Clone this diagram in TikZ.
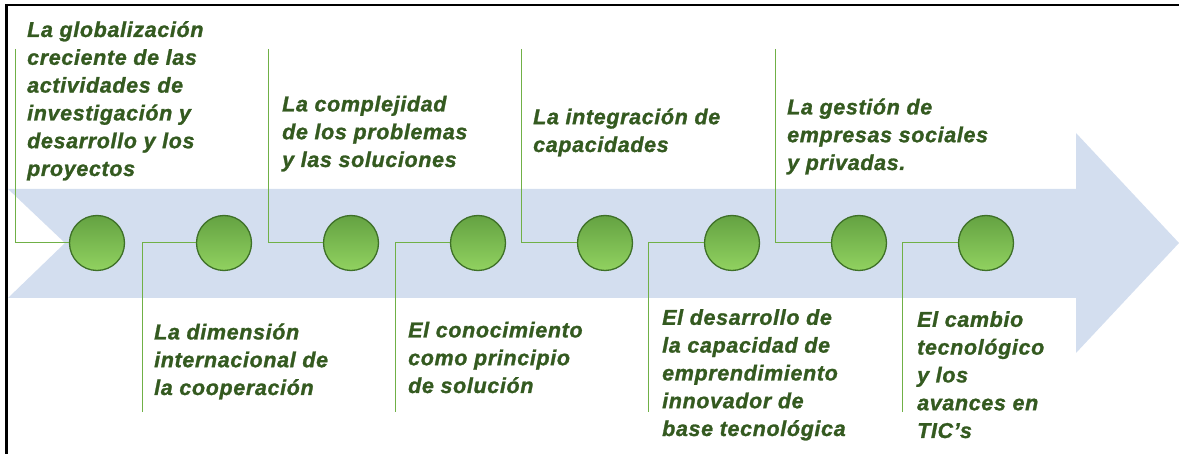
\documentclass[tikz,border=0pt]{standalone}
\usepackage{fontspec}
\setmainfont{Liberation Sans}
\newfontfamily\itemfont[LetterSpace=3,FakeBold=1.2]{Liberation Sans Bold Italic}
\usetikzlibrary{positioning,calc}

\definecolor{bandblue}{RGB}{211,222,239}
\definecolor{leadgreen}{RGB}{112,176,70}
\definecolor{textgreen}{RGB}{52,90,32}
\definecolor{balltop}{RGB}{100,162,66}
\definecolor{ballbottom}{RGB}{145,210,96}
\definecolor{balldark}{RGB}{62,112,40}

\begin{document}
\begin{tikzpicture}[x=1pt, y=-1pt,
            ball/.style={circle, draw=balldark, line width=1.3pt, minimum size=55pt,
                         inner sep=0pt, top color=balltop, bottom color=ballbottom},
            lead/.style={draw=leadgreen, line width=1pt},
            itemtext/.style={anchor=base west, align=left, inner sep=0pt, text=textgreen,
                         font=\itemfont\fontsize{21.5}{27.8}\selectfont}]
        \useasboundingbox (0,0) rectangle (1179,454);

        % the band
        \fill[bandblue] (8,189) -- (1076,189) -- (1076,133) -- (1179,243)
            -- (1076,353) -- (1076,298) -- (8,298) -- (65,243) -- cycle;

        % the balls
        \node[ball] (c1) at (97,243) {};
        \node[ball] (c2) at (224,243) {};
        \node[ball] (c3) at (351,243) {};
        \node[ball] (c4) at (478,243) {};
        \node[ball] (c5) at (605,243) {};
        \node[ball] (c6) at (732,243) {};
        \node[ball] (c7) at (859,243) {};
        \node[ball] (c8) at (986,243) {};

        % leader ends
        \coordinate (t1) at (15,49);
        \coordinate (b2) at (142,412);
        \coordinate (t3) at (268,49);
        \coordinate (b4) at (395,412);
        \coordinate (t5) at (521,49);
        \coordinate (b6) at (648,412);
        \coordinate (t7) at (775,49);
        \coordinate (b8) at (902,412);

        \draw[lead] (t1) |- (c1.west);
        \draw[lead] (c2.west) -| (b2);
        \draw[lead] (t3) |- (c3.west);
        \draw[lead] (c4.west) -| (b4);
        \draw[lead] (t5) |- (c5.west);
        \draw[lead] (c6.west) -| (b6);
        \draw[lead] (t7) |- (c7.west);
        \draw[lead] (c8.west) -| (b8);

        % the texts (placed by the baseline of their last line)
        \node[itemtext] (txt1) at (27,176) {La globalización\\creciente de las\\actividades de\\investigación y\\desarrollo y los\\proyectos};
        \node[itemtext] (txt2) at (154,395) {La dimensión\\internacional de\\la cooperación};
        \node[itemtext] (txt3) at (282,167) {La complejidad\\de los problemas\\y las soluciones};
        \node[itemtext] (txt4) at (408,393) {El conocimiento\\como principio\\de solución};
        \node[itemtext] (txt5) at (533,152) {La integración de\\capacidades};
        \node[itemtext] (txt6) at (662,436) {El desarrollo de\\la capacidad de\\emprendimiento\\innovador de\\base tecnológica};
        \node[itemtext] (txt7) at (787,170) {La gestión de\\empresas sociales\\y privadas.};
        \node[itemtext] (txt8) at (917,438) {El cambio\\tecnológico\\y los\\avances en\\TIC’s};

        % frame
        \draw[line width=2.5pt] (6.5,454) -- (6.5,5) -- (1179,5);
\end{tikzpicture}
\end{document}
